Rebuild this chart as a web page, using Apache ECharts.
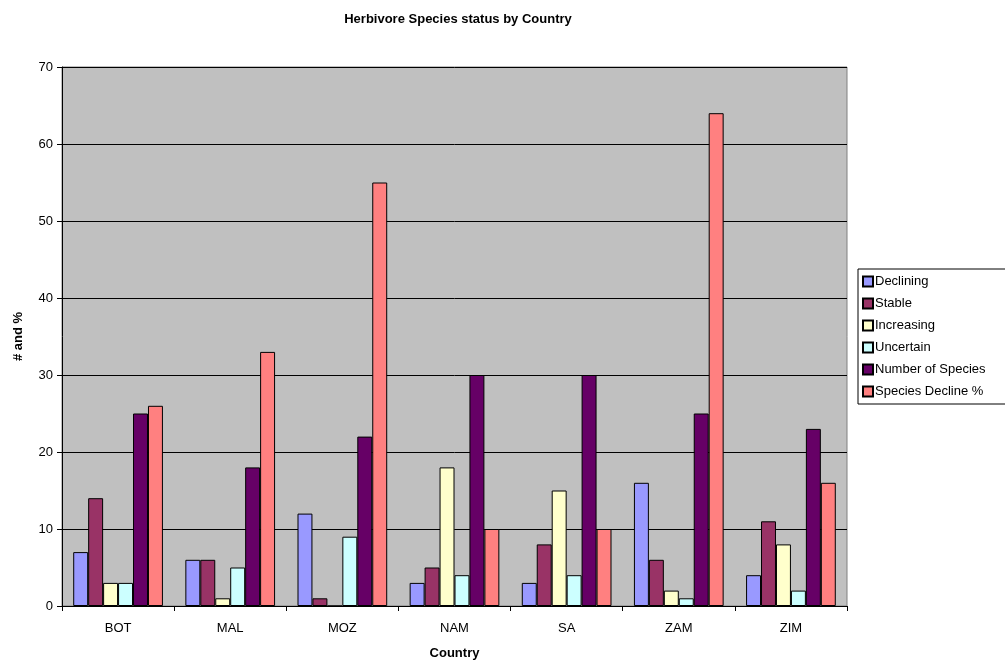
<!DOCTYPE html>
<html>
<head>
<meta charset="utf-8">
<script src="https://cdn.jsdelivr.net/npm/echarts@6/dist/echarts.min.js"></script>
<style>
  html, body { margin: 0; padding: 0; background: #ffffff; }
  #chart { width: 1005px; height: 661px; }
</style>
</head>
<body>
<div id="chart"></div>
<script>
// Herbivore species status per country
const countries = ['BOT', 'MAL', 'MOZ', 'NAM', 'SA', 'ZAM', 'ZIM'];
const declining = [7, 6, 12, 3, 3, 16, 4];
const stable = [14, 6, 1, 5, 8, 6, 11];
const increasing = [3, 1, 0, 18, 15, 2, 8];
const uncertain = [3, 5, 9, 4, 4, 1, 2];
const numberOfSpecies = [25, 18, 22, 30, 30, 25, 23];
const speciesDeclinePct = [26, 33, 55, 10, 10, 64, 16];

const seriesDefs = [
  { name: 'Declining', data: declining, color: '#9999FF' },
  { name: 'Stable', data: stable, color: '#993366' },
  { name: 'Increasing', data: increasing, color: '#FFFFCC' },
  { name: 'Uncertain', data: uncertain, color: '#CCFFFF' },
  { name: 'Number of Species', data: numberOfSpecies, color: '#660066' },
  { name: 'Species Decline %', data: speciesDeclinePct, color: '#FF8080' }
];

const font = 'Liberation Sans, Arial, sans-serif';
const chart = echarts.init(document.getElementById('chart'), null, { renderer: 'canvas' });

chart.setOption({
  animation: false,
  backgroundColor: '#ffffff',
  title: {
    text: 'Herbivore Species status by Country',
    left: 453, top: 8, textAlign: 'center',
    textStyle: { fontFamily: font, fontSize: 13, fontWeight: 'bold', color: '#000' }
  },
  legend: {
    orient: 'vertical',
    left: 858, top: 269,
    padding: [6, 40, 6, 4],
    itemGap: 9,
    itemWidth: 10, itemHeight: 10,
    borderColor: '#000', borderWidth: 1,
    backgroundColor: '#ffffff',
    textStyle: { fontFamily: font, fontSize: 13, lineHeight: 13, color: '#000', padding: [0, 0, 0, -3] },
    data: seriesDefs.map(s => ({ name: s.name, icon: 'rect' }))
  },
  grid: {
    left: 62, top: 67, width: 785, height: 539,
    outerBoundsMode: 'none',
    containLabel: false,
    show: true, backgroundColor: '#C0C0C0', borderColor: '#808080', borderWidth: 1
  },
  xAxis: {
    type: 'category',
    data: countries,
    name: 'Country',
    nameLocation: 'middle',
    nameGap: 41,
    nameTextStyle: { fontFamily: font, fontSize: 13, fontWeight: 'bold', color: '#000' },
    axisLine: { lineStyle: { color: '#000', width: 1 } },
    axisTick: { show: true, length: 5, lineStyle: { color: '#000' } },
    axisLabel: { fontFamily: font, fontSize: 13, color: '#000', margin: 16 }
  },
  yAxis: {
    type: 'value',
    min: 0, max: 70, interval: 10,
    name: '# and %',
    nameLocation: 'middle',
    nameGap: 37,
    nameTextStyle: { fontFamily: font, fontSize: 13, fontWeight: 'bold', color: '#000' },
    axisLine: { show: true, lineStyle: { color: '#000', width: 1 } },
    axisTick: { show: true, length: 5, lineStyle: { color: '#000' } },
    axisLabel: { fontFamily: font, fontSize: 13, color: '#000', margin: 9 },
    splitLine: { show: true, lineStyle: { color: '#000', width: 1 } }
  },
  series: seriesDefs.map(s => ({
    name: s.name,
    type: 'bar',
    data: s.data,
    barGap: '0%',
    barCategoryGap: '20%',
    itemStyle: { color: s.color, borderColor: '#000', borderWidth: 1 }
  }))
});
</script>
</body>
</html>
